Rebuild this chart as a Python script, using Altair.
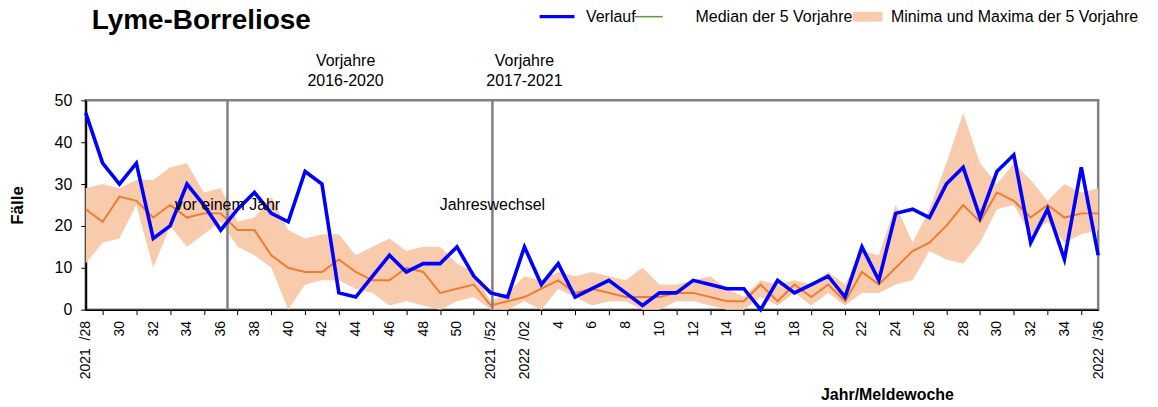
import json
import altair as alt
import pandas as pd

# ---- data (Meldewochen 2021/28 .. 2022/36) ----
years = [2021] * 25 + [2022] * 36
weeks = list(range(28, 53)) + list(range(1, 37))

verlauf = [47, 35, 30, 35, 17, 20, 30, 25, 19, 24, 28, 23, 21, 33, 30, 4, 3, 8, 13, 9, 11, 11, 15, 8, 4,
           3, 15, 6, 11, 3, 5, 7, 4, 1, 4, 4, 7, 6, 5, 5, 0, 7, 4, 6, 8, 3, 15, 7, 23, 24, 22, 30, 34, 22,
           33, 37, 16, 24, 12, 34, 13]
median5 = [24, 21, 27, 26, 22, 25, 22, 23, 23, 19, 19, 13, 10, 9, 9, 12, 9, 7, 7, 10, 9, 4, 5, 6, 1,
           2, 3, 5, 7, 4, 5, 4, 3, 3, 3, 4, 4, 3, 2, 2, 6, 2, 6, 3, 6, 2, 9, 6, 10, 14, 16, 20, 25, 21,
           28, 26, 22, 25, 22, 23, 23]
min5 = [11, 16, 17, 25, 10, 20, 15, 18, 21, 15, 13, 10, 0, 6, 7, 7, 5, 4, 1, 2, 1, 0, 2, 3, 0,
        0, 2, 0, 5, 3, 1, 2, 2, 0, 0, 2, 2, 1, 0, 0, 3, 1, 4, 1, 4, 1, 4, 4, 6, 7, 14, 12, 11, 16,
        24, 25, 18, 21, 16, 18, 19]
max5 = [29, 30, 29, 31, 31, 34, 35, 28, 29, 21, 22, 27, 19, 17, 18, 18, 13, 15, 17, 14, 15, 15, 11, 9, 2,
        4, 8, 7, 9, 8, 9, 8, 7, 10, 6, 6, 7, 8, 5, 3, 7, 6, 7, 6, 9, 6, 14, 13, 25, 16, 24, 35, 47, 35,
        30, 35, 31, 26, 30, 28, 29]

SP = "\u00a0\u00a0"
tick_labels = ["2021" + SP + "/28", "30", "32", "34", "36", "38", "40", "42", "44", "46", "48", "50",
               "2021" + SP + "/52", "2022" + SP + "/02", "4", "6", "8", "10", "12", "14", "16", "18",
               "20", "22", "24", "26", "28", "30", "32", "34", "2022" + SP + "/36"]
y_ticks = [0, 5, 10, 15, 20, 25, 30, 35, 40, 45, 50]

chart_title = "Lyme-Borreliose"

marker_pos = [8.4, 24.1]
marker_text = ["vor einem Jahr", "Jahreswechsel"]
marker_text_y = [25, 25]

period_text = ["Vorjahre\n2016-2020", "Vorjahre\n2017-2021"]
period_pos = [15.4, 26.0]
period_y = [59.5, 59.5]

series_names = ["Verlauf", "Median der 5 Vorjahre", "Minima und Maxima der 5 Vorjahre"]
series_colors = ["#0000FF", "#5A9A3A", "#F8CBAD"]
series_shapes = [
    "M-7.3,-0.32H-0.3V0.32H-7.3Z",
    "M-10.2,-0.15H-4.6V0.15H-10.2Z",
    "M-5.7,-1H0.3V1H-5.7Z",
]

FONT = "Liberation Sans"

df = pd.DataFrame({
    "idx": list(range(len(weeks))),
    "jahr": years,
    "woche": weeks,
    "verlauf": verlauf,
    "median": median5,
    "min": min5,
    "max": max5,
})

xscale = alt.Scale(domain=[0, 60], nice=False, zero=False)
yscale = alt.Scale(domain=[0, 50], nice=False, zero=True)

label_expr = "datum.value % 2 == 0 ? " + json.dumps(tick_labels) + "[round(datum.value / 2)] : ''"

x_axis = alt.Axis(
    values=list(range(0, 61)), labelExpr=label_expr, labelAngle=270, labelAlign="right",
    labelBaseline="middle", labelPadding=6, labelFontSize=14, labelOverlap=False, labelFlush=False,
    labelBound=False,
    tickSize=5, tickOpacity={"condition": {"test": "datum.value % 2 == 1", "value": 1}, "value": 0},
    grid=False, domainWidth=1.5, domainColor="black",
    title="Jahr/Meldewoche", titleFontSize=16, titleFontWeight="bold",
    titleX=804, titleY=85, titleAlign="center", titleBaseline="middle",
)
y_axis = alt.Axis(
    values=y_ticks, labelFontSize=16, tickSize=5, labelPadding=9, grid=False,
    labelOverlap=False, labelFlush=False, labelBound=False,
    domainWidth=2, domainColor="black",
    title="Fälle", titleFontSize=17, titleFontWeight="bold", titleAngle=270,
    titleX=-68, titleY=105, titleAlign="center", titleBaseline="middle",
)


def X(field):
    return alt.X(field, type="quantitative", scale=xscale, axis=x_axis)


def Y(field):
    return alt.Y(field, type="quantitative", scale=yscale, axis=y_axis)


base = alt.Chart(df)

band = base.mark_area(color="#F8CBAD", opacity=1).encode(x=X("idx"), y=Y("min"), y2="max:Q")
med = base.mark_line(color="#ED7D31", strokeWidth=2).encode(x=X("idx"), y=Y("median"))
line = base.mark_line(color="#0000FF", strokeWidth=3.6).encode(x=X("idx"), y=Y("verlauf"))

markers = pd.DataFrame({"pos": marker_pos, "label": marker_text, "ty": marker_text_y})
rules = alt.Chart(markers).mark_rule(color="#808080", strokeWidth=2.5).encode(
    x=X("pos"), y=alt.datum(0), y2=alt.datum(50)
)
marker_labels = alt.Chart(markers).mark_text(
    font=FONT, fontSize=16, color="black", align="center", baseline="middle"
).encode(x=X("pos"), y=Y("ty"), text="label:N")

periods = pd.DataFrame({"pos": period_pos, "label": period_text, "ty": period_y})
period_labels = alt.Chart(periods).mark_text(
    font=FONT, fontSize=16, color="black", align="center", baseline="middle", lineBreak="\n",
    lineHeight=20,
).encode(x=X("pos"), y=Y("ty"), text="label:N")

title_layer = alt.Chart(pd.DataFrame({"t": [chart_title]})).mark_text(
    font=FONT, fontSize=28, fontWeight="bold", color="black", align="left", baseline="alphabetic"
).encode(x=alt.value(6), y=alt.value(-72), text="t:N")

leg = alt.Legend(
    title=None, orient="none", legendX=484, legendY=-92, direction="horizontal", columns=3,
    columnPadding=-1, labelOffset=2, symbolSize=100, labelFontSize=16, labelFont=FONT,
    labelColor="black", symbolOpacity=1, symbolStrokeWidth=0, padding=0, labelLimit=500,
)
legend_df = pd.DataFrame({"series": series_names})
legend_layer = alt.Chart(legend_df).mark_point(filled=True, opacity=0, size=1).encode(
    x=alt.value(0), y=alt.value(0),
    color=alt.Color("series:N", scale=alt.Scale(domain=series_names, range=series_colors), legend=leg),
    shape=alt.Shape("series:N", scale=alt.Scale(domain=series_names, range=series_shapes), legend=leg),
)

chart = alt.layer(
    band, med, rules, line, marker_labels, period_labels, title_layer, legend_layer
).properties(
    width=1016, height=210,
    autosize=alt.AutoSizeParams(type="none"),
    padding={"left": 78, "top": 92, "right": 52, "bottom": 94},
).configure_view(
    stroke="#808080", strokeWidth=2.5
).configure_axis(
    labelFont=FONT, titleFont=FONT, labelColor="black", titleColor="black", tickColor="black",
    labelOverlap=False,
)

chart.save("out.html", embed_options={"renderer": "svg", "actions": False})
